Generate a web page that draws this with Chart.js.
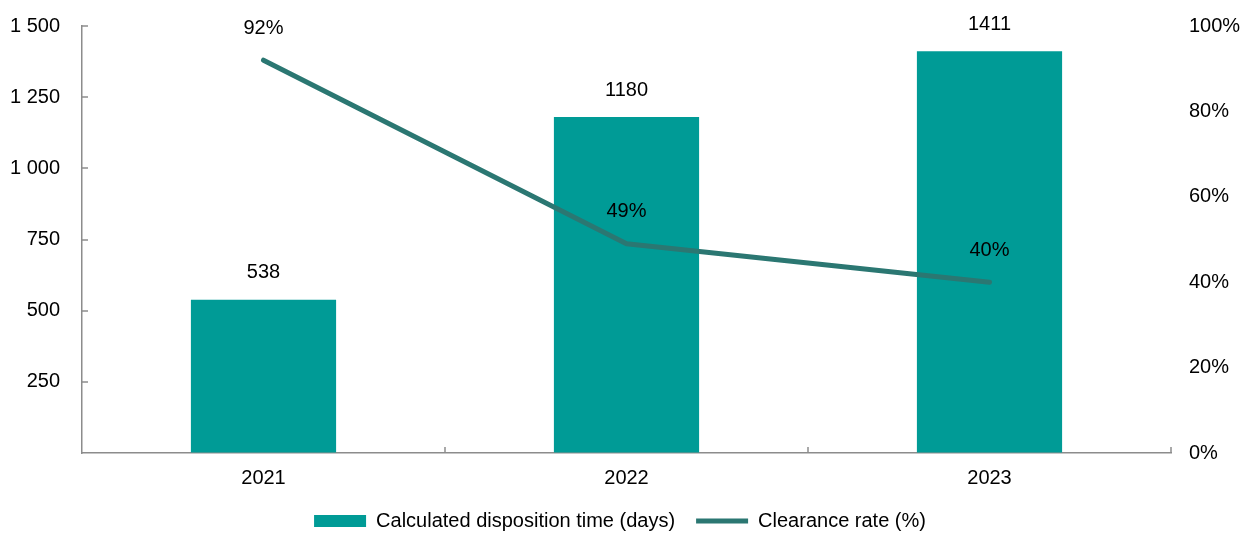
<!DOCTYPE html>
<html>
<head>
<meta charset="utf-8">
<script src="https://cdn.jsdelivr.net/npm/chart.js@4.4.1/dist/chart.umd.min.js"></script>
<style>
html,body{margin:0;padding:0;background:#fff;}
#wrap{width:1240px;height:533px;position:relative;overflow:hidden;}
</style>
</head>
<body>
<div id="wrap"><canvas id="c" width="1240" height="533"></canvas></div>
<script>
const categories = ['2021', '2022', '2023'];
const dispositionDays = [538, 1180, 1411];
const clearanceRate = [0.92, 0.49, 0.40];
const leftTicks = [0, 250, 500, 750, 1000, 1250, 1500];
const rightTicks = [0, 0.2, 0.4, 0.6, 0.8, 1.0];
const seriesNames = ['Calculated disposition time (days)', 'Clearance rate (%)'];

const BAR = '#009B96';
const LINE = '#2B7772';
const AXIS = '#8C8C8C';
const FONT = "'Liberation Sans', Arial, sans-serif";

function fmtThousands(v){
  return String(v).replace(/\B(?=(\d{3})+(?!\d))/g, ' ');
}

const decor = {
  id: 'decor',
  afterDatasetsDraw(chart){
    const ctx = chart.ctx;
    const x = chart.scales.x, y = chart.scales.y;
    const area = chart.chartArea;
    const step = x.getPixelForValue(1) - x.getPixelForValue(0);
    ctx.save();
    ctx.strokeStyle = AXIS;
    ctx.lineWidth = 1.5;
    leftTicks.forEach(v => {
      if (v === 0) return;
      const py = Math.round(y.getPixelForValue(v));
      ctx.beginPath(); ctx.moveTo(area.left, py); ctx.lineTo(area.left + 6, py); ctx.stroke();
    });
    for (let i = 1; i <= categories.length; i++) {
      const px = Math.round(x.getPixelForValue(i - 1) + step / 2);
      ctx.beginPath(); ctx.moveTo(px, area.bottom); ctx.lineTo(px, area.bottom - 6); ctx.stroke();
    }
    ctx.restore();

    ctx.save();
    ctx.font = '20px ' + FONT;
    ctx.fillStyle = '#000';
    ctx.textAlign = 'center';
    ctx.textBaseline = 'middle';
    chart.getDatasetMeta(0).data.forEach((el, i) => {
      ctx.fillText(String(dispositionDays[i]), el.x, el.y - 27);
    });
    chart.getDatasetMeta(1).data.forEach((el, i) => {
      ctx.fillText(Math.round(clearanceRate[i] * 100) + '%', el.x, el.y - 32);
    });
    ctx.restore();
  }
};

const hiddenTickGrid = (len) => ({
  display: true, drawOnChartArea: false, drawTicks: true,
  tickLength: len, color: 'rgba(0,0,0,0)', tickColor: 'rgba(0,0,0,0)'
});

new Chart(document.getElementById('c'), {
  data: {
    labels: categories,
    datasets: [
      {
        type: 'bar',
        label: seriesNames[0],
        data: dispositionDays,
        backgroundColor: BAR,
        borderWidth: 0,
        yAxisID: 'y',
        categoryPercentage: 1,
        barPercentage: 0.4,
        order: 2
      },
      {
        type: 'line',
        label: seriesNames[1],
        data: clearanceRate,
        borderColor: LINE,
        backgroundColor: LINE,
        borderWidth: 5,
        borderCapStyle: 'round',
        borderJoinStyle: 'round',
        pointRadius: 0,
        pointHoverRadius: 0,
        tension: 0,
        yAxisID: 'y1',
        order: 1
      }
    ]
  },
  options: {
    responsive: false,
    animation: false,
    devicePixelRatio: 1,
    layout: { padding: { top: 26, left: 0, right: 0, bottom: -8 } },
    plugins: {
      tooltip: { enabled: false },
      legend: {
        position: 'bottom',
        labels: {
          font: { family: FONT, size: 20 },
          color: '#000',
          usePointStyle: true,
          pointStyleWidth: 52,
          boxHeight: 12,
          boxWidth: 52,
          padding: 21,
          generateLabels(){
            return [
              { text: seriesNames[0], fillStyle: BAR, strokeStyle: BAR, lineWidth: 0, pointStyle: 'rect', datasetIndex: 0, hidden: false },
              { text: seriesNames[1], fillStyle: LINE, strokeStyle: LINE, lineWidth: 5, pointStyle: 'line', datasetIndex: 1, hidden: false }
            ];
          }
        }
      }
    },
    scales: {
      x: {
        offset: true,
        grid: { display: false, drawTicks: false },
        border: { display: true, color: AXIS, width: 1.5 },
        ticks: { font: { family: FONT, size: 20 }, color: '#000', padding: 13 },
        afterFit(s){ s.height = 37; }
      },
      y: {
        position: 'left',
        min: 0, max: 1500,
        afterBuildTicks(s){ s.ticks = leftTicks.map(v => ({ value: v })); },
        afterFit(s){ s.width = 82; },
        grid: hiddenTickGrid(22),
        border: { display: true, color: AXIS, width: 1.5 },
        ticks: {
          font: { family: FONT, size: 20 }, color: '#000', padding: 0,
          callback: v => v === 0 ? '' : fmtThousands(v)
        }
      },
      y1: {
        position: 'right',
        min: 0, max: 1,
        afterBuildTicks(s){ s.ticks = rightTicks.map(v => ({ value: v })); },
        afterFit(s){ s.width = 69; },
        grid: hiddenTickGrid(18),
        border: { display: false },
        ticks: {
          font: { family: FONT, size: 20 }, color: '#000', padding: 0,
          callback: v => Math.round(v * 100) + '%'
        }
      }
    }
  },
  plugins: [decor]
});
</script>
</body>
</html>
